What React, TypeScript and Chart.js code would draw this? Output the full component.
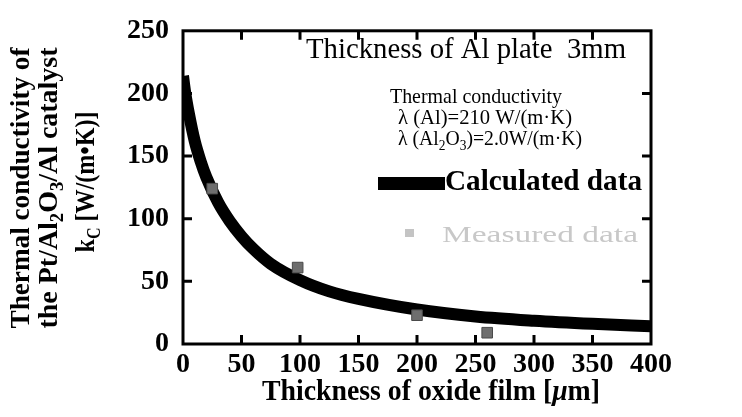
import { useEffect, useRef } from 'react';
import { Chart, registerables } from 'chart.js';

Chart.register(...registerables);

// Calculated curve
const curveX = [0, 2, 5, 10, 15, 20, 30, 40, 50, 60, 75, 100, 125, 150, 200, 250, 300, 350, 400];
const curveY = [214, 200, 184, 162, 146, 133, 113, 98, 86, 76, 64, 51, 42, 36, 27.5, 22, 18.6, 16.1, 14.1];
// Measured data
const measuredX = [25, 98, 200, 260];
const measuredY = [124, 61, 23, 9];
// Axis ranges / ticks
const xMin = 0;
const xMax = 400;
const xStep = 50;
const yMin = 0;
const yMax = 250;
const yStep = 50;
const xInnerTicks = [50, 100, 150, 200, 250, 300, 350];
const yInnerTicks = [50, 100, 150, 200];

const SERIF = '"Liberation Serif", "DejaVu Serif", serif';

type Seg = { t: string; sub?: boolean; italic?: boolean };

function segFont(seg: Seg, size: number, weight: string) {
  const s = seg.sub ? Math.round(size * 0.68) : size;
  return `${seg.italic ? 'italic ' : ''}${weight} ${s}px ${SERIF}`;
}

function drawRich(
  ctx: CanvasRenderingContext2D,
  segs: Seg[],
  x: number,
  y: number,
  size: number,
  weight: string,
  align: 'left' | 'center',
  targetWidth?: number,
  rotate?: boolean,
  color = '#000'
) {
  let w = 0;
  for (const seg of segs) {
    ctx.font = segFont(seg, size, weight);
    w += ctx.measureText(seg.t).width;
  }
  const sx = targetWidth ? targetWidth / w : 1;
  ctx.save();
  ctx.translate(x, y);
  if (rotate) ctx.rotate(-Math.PI / 2);
  ctx.scale(sx, 1);
  ctx.fillStyle = color;
  ctx.textBaseline = 'middle';
  ctx.textAlign = 'left';
  let cx = align === 'center' ? -w / 2 : 0;
  for (const seg of segs) {
    ctx.font = segFont(seg, size, weight);
    ctx.fillText(seg.t, cx, seg.sub ? size * 0.32 : 0);
    cx += ctx.measureText(seg.t).width;
  }
  ctx.restore();
}

const framePlugin = {
  id: 'frame',
  afterDatasetsDraw(chart: any) {
    const { ctx, chartArea: a, scales } = chart;
    const x = scales.x;
    const y = scales.y;
    ctx.save();
    ctx.strokeStyle = '#000';
    ctx.lineWidth = 3;
    ctx.strokeRect(a.left, a.top, a.right - a.left, a.bottom - a.top);
    ctx.beginPath();
    for (const v of xInnerTicks) {
      const px = x.getPixelForValue(v);
      ctx.moveTo(px, a.bottom);
      ctx.lineTo(px, a.bottom - 9);
      ctx.moveTo(px, a.top);
      ctx.lineTo(px, a.top + 9);
    }
    for (const v of yInnerTicks) {
      const py = y.getPixelForValue(v);
      ctx.moveTo(a.left, py);
      ctx.lineTo(a.left + 9, py);
      ctx.moveTo(a.right, py);
      ctx.lineTo(a.right - 9, py);
    }
    ctx.stroke();
    ctx.restore();
  },
  afterDraw(chart: any) {
    const ctx: CanvasRenderingContext2D = chart.ctx;
    // Y axis title (3 rotated lines)
    drawRich(ctx, [{ t: 'Thermal conductivity of' }], 22, 188, 27, 'bold', 'center', 281, true);
    drawRich(
      ctx,
      [{ t: 'the Pt/Al' }, { t: '2', sub: true }, { t: 'O' }, { t: '3', sub: true }, { t: '/Al catalyst' }],
      50,
      188,
      27,
      'bold',
      'center',
      281,
      true
    );
    drawRich(
      ctx,
      [{ t: 'k' }, { t: 'C', sub: true }, { t: ' [W/(m\u2022K)]' }],
      87,
      182,
      27,
      'bold',
      'center',
      141,
      true
    );
    // X axis title
    drawRich(
      ctx,
      [{ t: 'Thickness of oxide film [' }, { t: '\u03bc', italic: true }, { t: 'm]' }],
      431,
      392,
      30,
      'bold',
      'center',
      338
    );
    // Annotations
    drawRich(ctx, [{ t: 'Thickness of Al plate  3mm' }], 306, 50, 29, 'normal', 'left', 320);
    drawRich(ctx, [{ t: 'Thermal conductivity' }], 390, 97, 22, 'normal', 'left', 172);
    drawRich(ctx, [{ t: '\u03bb (Al)=210 W/(m\u00b7K)' }], 398, 118, 22, 'normal', 'left', 174);
    drawRich(
      ctx,
      [{ t: '\u03bb (Al' }, { t: '2', sub: true }, { t: 'O' }, { t: '3', sub: true }, { t: ')=2.0W/(m\u00b7K)' }],
      398,
      139,
      22,
      'normal',
      'left',
      184
    );
    // Legend: calculated
    ctx.save();
    ctx.fillStyle = '#000';
    ctx.fillRect(378, 177, 67, 13);
    ctx.restore();
    drawRich(ctx, [{ t: 'Calculated data' }], 445, 183, 29, 'bold', 'left', 197);
    // Legend: measured (faint)
    ctx.save();
    ctx.fillStyle = '#c4c4c4';
    ctx.fillRect(405, 229, 9, 8);
    ctx.restore();
    drawRich(ctx, [{ t: 'Measured data' }], 442, 236, 23, 'normal', 'left', 196, false, '#c8c8c8');
  },
};

export default function App() {
  const ref = useRef<HTMLCanvasElement>(null);
  useEffect(() => {
    if (!ref.current) return;
    const tickFont = { family: SERIF, size: 28, weight: 'bold' as const };
    const chart = new Chart(ref.current, {
      type: 'line',
      data: {
        datasets: [
          {
            label: 'Measured data',
            data: measuredX.map((x, i) => ({ x, y: measuredY[i] })),
            showLine: false,
            pointStyle: 'rect',
            pointRadius: 7.5,
            pointBackgroundColor: '#6e6e6e',
            pointBorderColor: '#4a4a4a',
            pointBorderWidth: 1,
          },
          {
            label: 'Calculated data',
            data: curveX.map((x, i) => ({ x, y: curveY[i] })),
            borderColor: '#000',
            borderWidth: 12,
            pointRadius: 0,
            cubicInterpolationMode: 'monotone',
            fill: false,
            clip: 0,
          } as any,
        ],
      },
      options: {
        responsive: false,
        devicePixelRatio: 1,
        animation: false,
        layout: { padding: { top: 19, right: 91, bottom: 0, left: 0 } },
        plugins: { legend: { display: false }, tooltip: { enabled: false } },
        scales: {
          x: {
            type: 'linear',
            min: xMin,
            max: xMax,
            ticks: { stepSize: xStep, font: tickFont, color: '#000', padding: 4, maxRotation: 0, autoSkip: false },
            grid: { display: false, drawTicks: false },
            border: { display: false },
            afterFit: (s: any) => {
              s.height = 73;
            },
          },
          y: {
            type: 'linear',
            min: yMin,
            max: yMax,
            ticks: { stepSize: yStep, font: tickFont, color: '#000', padding: 14 },
            grid: { display: false, drawTicks: false },
            border: { display: false },
            afterFit: (s: any) => {
              s.width = 183;
            },
          },
        },
      },
      plugins: [framePlugin],
    });
    return () => chart.destroy();
  }, []);
  return (
    <div style={{ position: 'fixed', left: 0, top: 0, width: 742, height: 417, background: '#fff' }}>
      <canvas ref={ref} width={742} height={417} style={{ display: 'block' }} />
    </div>
  );
}
